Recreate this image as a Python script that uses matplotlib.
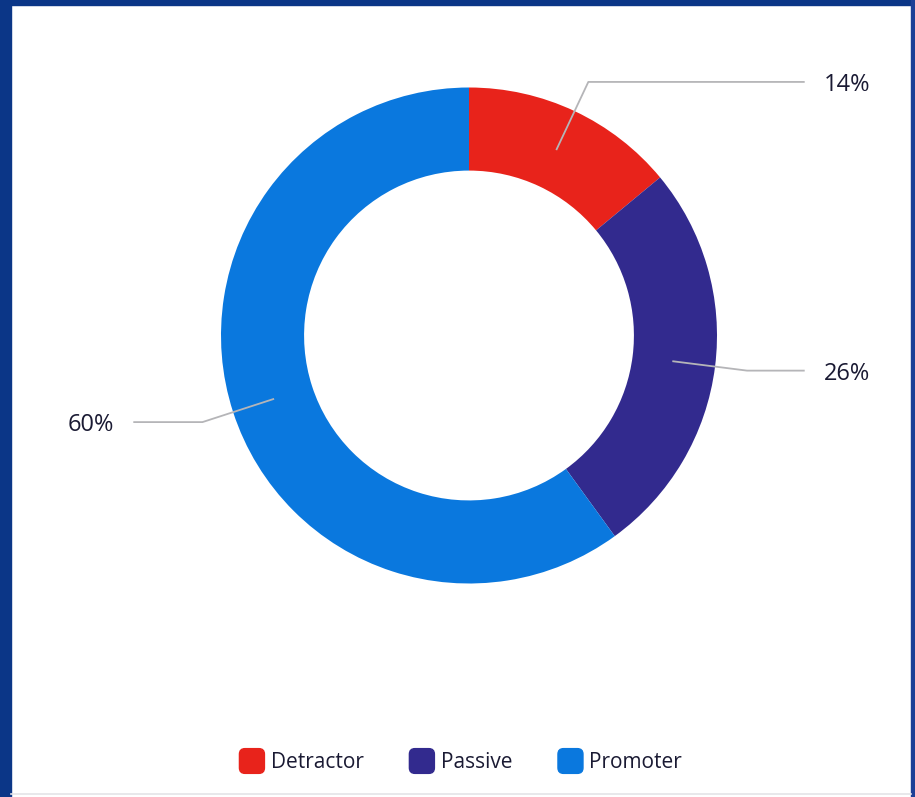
import numpy as np
import matplotlib
matplotlib.use("Agg")
import matplotlib.pyplot as plt
from matplotlib.lines import Line2D
from matplotlib.patches import Rectangle, Patch, FancyBboxPatch
from matplotlib.legend_handler import HandlerPatch

plt.rcParams['font.family'] = ['Open Sans', 'DejaVu Sans']

categories = ["Detractor", "Passive", "Promoter"]
shares = [14, 26, 60]
colors = ["#e8231b", "#322a8e", "#0a78de"]
text_color = "#1a1a33"

W, H = 915, 797
fig = plt.figure(figsize=(W / 100, H / 100), dpi=100)
fig.patch.set_facecolor("white")

# scanned-page frame
fig.add_artist(Rectangle((0, 0), 11 / W, 1, transform=fig.transFigure, color="#0b3687", zorder=0))
fig.add_artist(Rectangle((0, 1 - 5 / H), 1, 5 / H, transform=fig.transFigure, color="#0b3687", zorder=0))
fig.add_artist(Rectangle((1 - 4 / W, 0), 4 / W, 1, transform=fig.transFigure, color="#1c3f96", zorder=0))
fig.add_artist(Line2D([11 / W, 1 - 4 / W], [3.5 / H, 3.5 / H], transform=fig.transFigure, color="#e4e4e8", lw=1.2))

ax = fig.add_axes([0, 0, 1, 1])
ax.set_facecolor("none")
R = 248.0
cx, cy = 469, 335.5
ax.axis("off")

wedges, _ = ax.pie(shares, colors=colors, startangle=90, counterclock=False,
                   radius=1.0, wedgeprops=dict(width=0.335, linewidth=0))
ax.set_xlim(-cx / R, (W - cx) / R)
ax.set_ylim(-(H - cy) / R, cy / R)

# leader lines and percentage labels
for w, s in zip(wedges, shares):
    ang = np.deg2rad((w.theta1 + w.theta2) / 2)
    x0, y0 = 0.83 * np.cos(ang), 0.83 * np.sin(ang)
    x1, y1 = 1.13 * np.cos(ang), 1.13 * np.sin(ang)
    side = 1 if x1 > 0 else -1
    x2 = side * 1.35
    ax.plot([x0, x1, x2], [y0, y1, y1], color="#b5b5b8", lw=1.3, zorder=3)
    ax.text(side * 1.43, y1 - 0.012, f"{s}%", ha="left" if side > 0 else "right",
            va="center", fontsize=17, color=text_color)


def rounded_box(legend, orig_handle, xdescent, ydescent, width, height, fontsize):
    return FancyBboxPatch((-xdescent + 1.5, -ydescent + 1.5), width - 3, height - 3,
                          boxstyle="round,pad=1.5,rounding_size=4")


handles = [Patch(facecolor=c, edgecolor=c, label=n) for c, n in zip(colors, categories)]
ax.legend(handles=handles, loc="center", bbox_to_anchor=(0.5035, 1 - 761 / H),
          bbox_transform=fig.transFigure, ncol=3, frameon=False, fontsize=15,
          labelcolor=text_color, handletextpad=0.3, columnspacing=2.2,
          handlelength=1.2, handleheight=1.45,
          handler_map={Patch: HandlerPatch(patch_func=rounded_box)})

fig.savefig("out.png", dpi=100)
